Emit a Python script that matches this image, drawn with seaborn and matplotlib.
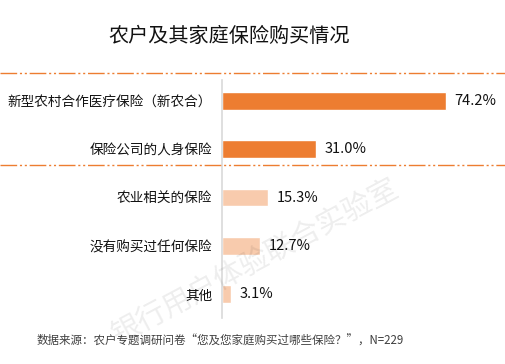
import seaborn as sns
import matplotlib.pyplot as plt
import pandas as pd
from matplotlib.lines import Line2D

categories = ["新型农村合作医疗保险（新农合）", "保险公司的人身保险", "农业相关的保险",
              "没有购买过任何保险", "其他"]
values = [74.2, 31.0, 15.3, 12.7, 3.1]
value_labels = ["74.2%", "31.0%", "15.3%", "12.7%", "3.1%"]
bar_colors = ["#ED7D31", "#ED7D31", "#F8CBAD", "#F8CBAD", "#F8CBAD"]

title = "农户及其家庭保险购买情况"
source = "数据来源：农户专题调研问卷“您及您家庭购买过哪些保险？”，N=229"
watermark = "银行用户体验联合实验室"

df = pd.DataFrame({"cat": categories, "val": values})

sns.set_style("white")
plt.rcParams["font.family"] = ["Noto Sans CJK SC", "DejaVu Sans"]

fig = plt.figure(figsize=(5.05, 3.64), dpi=100)
ax = fig.add_axes([222 / 505, 1 - 318 / 364, 278 / 505, 238 / 364])

sns.barplot(data=df, x="val", y="cat", hue="cat", palette=bar_colors,
            legend=False, width=0.37, saturation=1, ax=ax, orient="h")

ax.set_xlim(0, 92)
ax.set_ylim(4.497, -0.435)
ax.set_xlabel("")
ax.set_ylabel("")
ax.set_xticks([])
for s in ["top", "right", "bottom"]:
    ax.spines[s].set_visible(False)
ax.spines["left"].set_color("#D9D9D9")
ax.spines["left"].set_linewidth(1.2)
ax.tick_params(axis="y", length=0, pad=7, labelsize=9.8, labelcolor="#111111")

for i, (v, lab) in enumerate(zip(values, value_labels)):
    ax.text(v + 2.8, i, lab, va="center", ha="left", fontsize=10.5, color="#111111")

fig.text(229 / 505, 1 - 36 / 364, title, ha="center", va="center",
         fontsize=14.5, color="#111111")
fig.text(37 / 505, 1 - 341 / 364, source, ha="left", va="center",
         fontsize=8.3, color="#404040")

# watermark
fig.text(255 / 505, 1 - 262 / 364, watermark, ha="center", va="center",
         fontsize=21, color="#000000", alpha=0.07, rotation=28)

# dashed separators
for yy in [73, 165]:
    fig.add_artist(Line2D([0, 1], [1 - yy / 364, 1 - yy / 364],
                          transform=fig.transFigure, color="#ED7D31",
                          linewidth=1, linestyle=(0, (12, 2, 1.5, 2, 1.5, 2))))

plt.savefig("out.png", dpi=100)
